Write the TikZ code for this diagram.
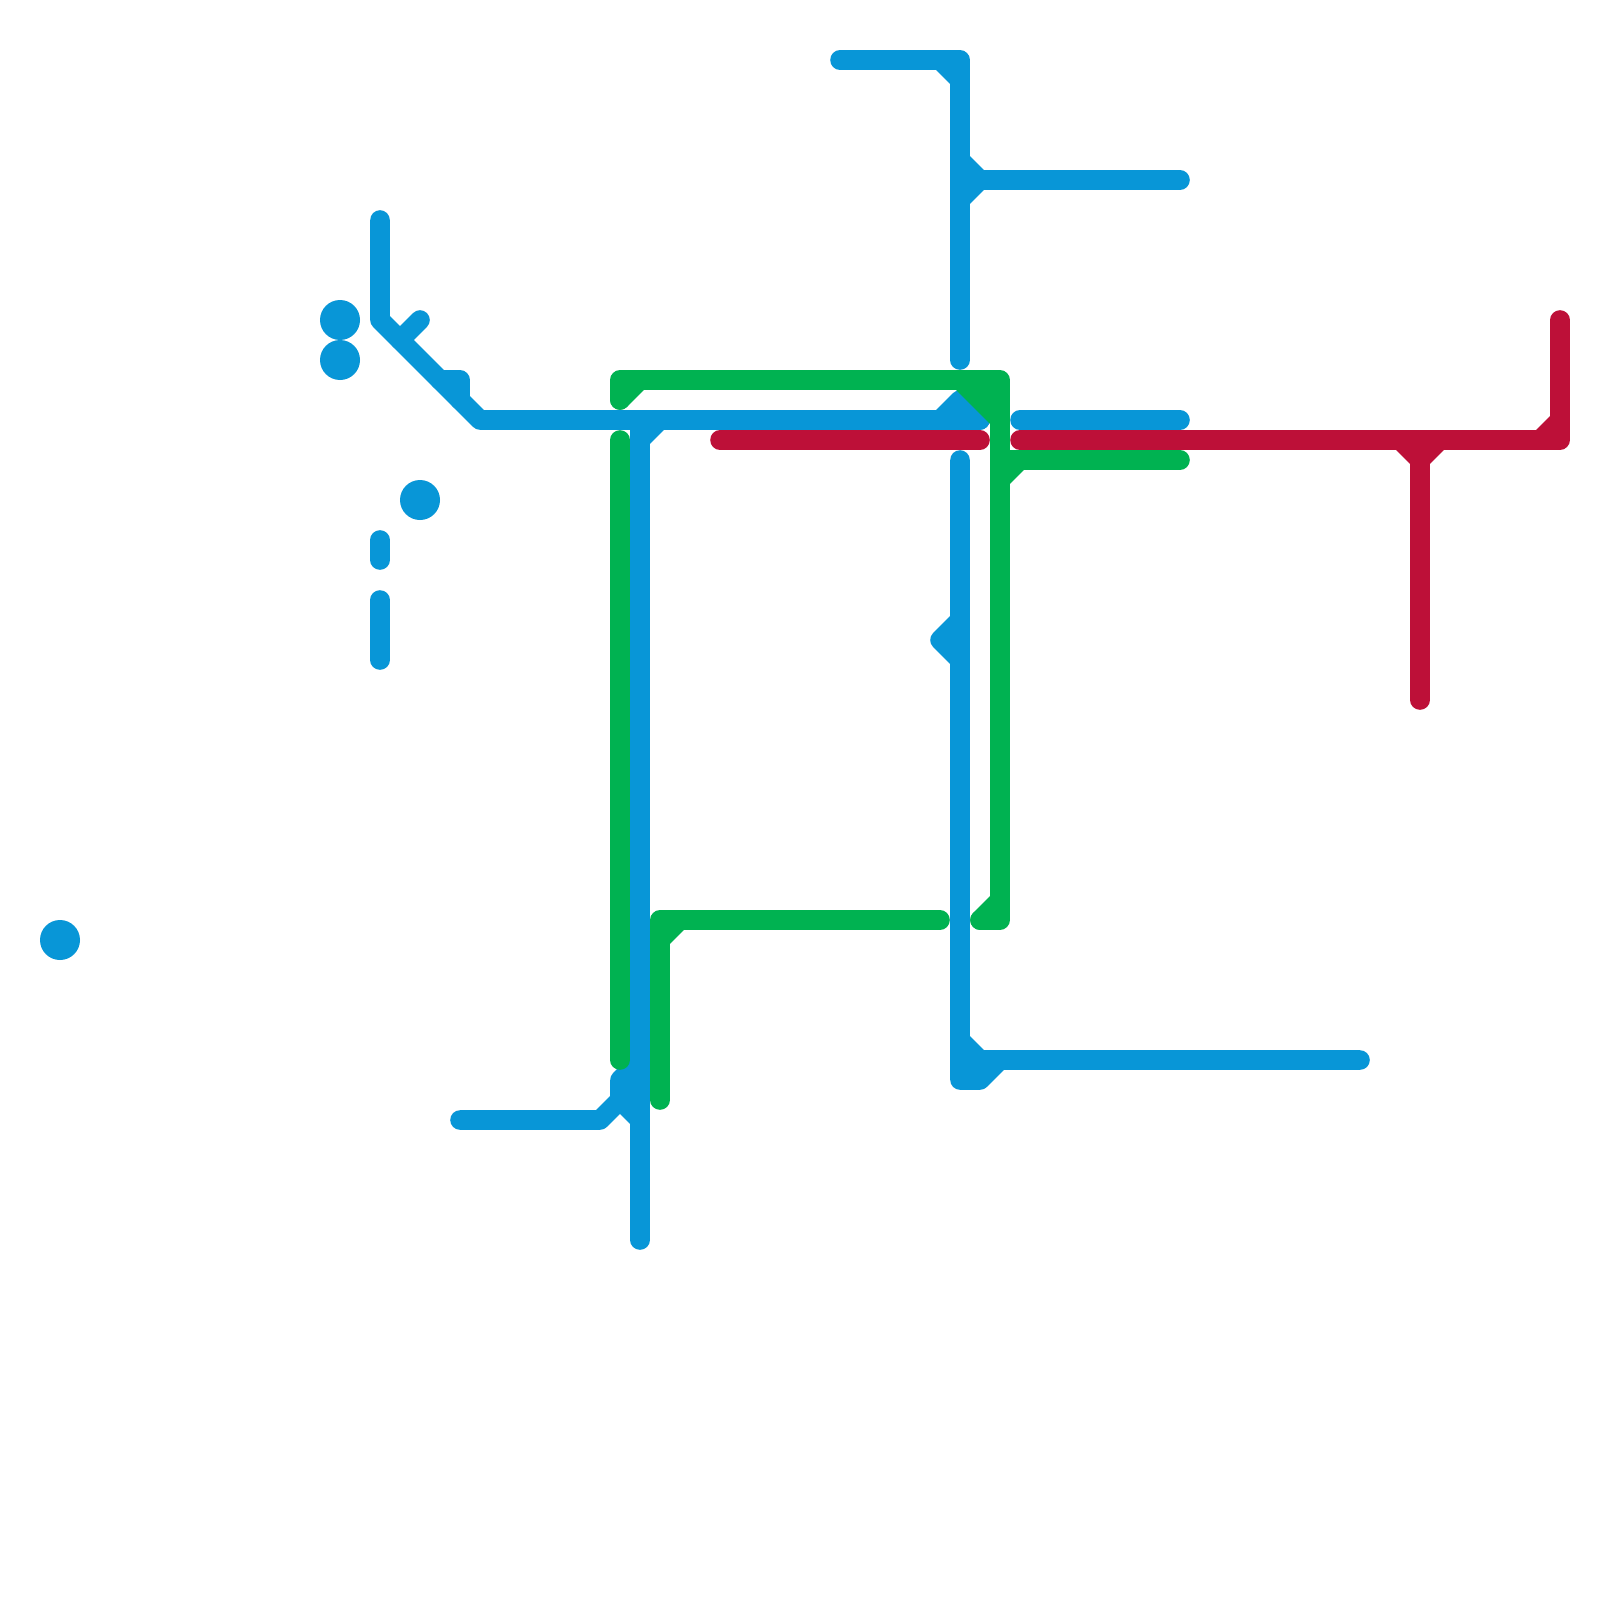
\documentclass[tikz,border=0pt]{standalone}
\definecolor{mblue}{HTML}{0896D7}
\definecolor{mgreen}{HTML}{00B251}
\definecolor{mred}{HTML}{BD1038}
\tikzset{
  x=0.01cm,y=-0.01cm,
  metro/.style={line width=0.196cm,line cap=round,line join=round},
  blueline/.style={metro,draw=mblue},
  greenline/.style={metro,draw=mgreen},
  redline/.style={metro,draw=mred},
  station/.style={fill=mblue}
}
\begin{document}
\begin{tikzpicture}
\useasboundingbox (0,0) rectangle (1600,1600);
\fill[white] (0,0) rectangle (1600,1600);
% stations
\fill[station] (340,320) circle[radius=20];
\fill[station] (340,360) circle[radius=20];
\fill[station] (420,500) circle[radius=20];
\fill[station] (60,940) circle[radius=20];
% blue
\draw[blueline] (380,220)--(380,320)--(480,420)--(980,420);
\draw[blueline] (400,340)--(420,320);
\fill[mblue] (440,380)--(460,380)--(460,400)--cycle;
\draw[blueline] (440,380)--(460,380)--(460,400);
\fill[mblue] (940,420)--(960,400)--(980,420)--cycle;
\draw[blueline] (940,420)--(960,400)--(980,420);
\draw[blueline] (380,540)--(380,560);
\draw[blueline] (380,600)--(380,660);
\draw[blueline] (640,420)--(640,1240);
\fill[mblue] (640,420)--(660,420)--(640,440)--cycle;
\draw[blueline] (660,420)--(640,440);
\fill[mblue] (620,1080)--(640,1060)--(640,1120)--(620,1100)--cycle;
\draw[blueline] (460,1120)--(600,1120)--(620,1100)--(640,1120);
\draw[blueline] (640,1060)--(620,1080)--(620,1100);
\draw[blueline] (840,60)--(960,60)--(960,360);
\fill[mblue] (940,60)--(960,60)--(960,80)--cycle;
\draw[blueline] (940,60)--(960,80);
\draw[blueline] (960,180)--(1180,180);
\fill[mblue] (960,160)--(980,180)--(960,200)--cycle;
\draw[blueline] (960,160)--(980,180)--(960,200);
\draw[blueline] (960,460)--(960,1080)--(980,1080)--(1000,1060);
\fill[mblue] (940,640)--(960,620)--(960,660)--cycle;
\draw[blueline] (960,620)--(940,640)--(960,660);
\fill[mblue] (960,1040)--(980,1060)--(1000,1060)--(980,1080)--(960,1080)--cycle;
\draw[blueline] (960,1040)--(980,1060)--(1360,1060);
\draw[blueline] (1020,420)--(1180,420);
% red
\draw[redline] (720,440)--(980,440);
\draw[redline] (1020,440)--(1560,440)--(1560,320);
\fill[mred] (1540,440)--(1560,440)--(1560,420)--cycle;
\draw[redline] (1540,440)--(1560,420);
\fill[mred] (1400,440)--(1440,440)--(1420,460)--cycle;
\draw[redline] (1400,440)--(1420,460)--(1440,440);
\draw[redline] (1420,460)--(1420,700);
% green
\draw[greenline] (620,400)--(620,380)--(1000,380)--(1000,920)--(980,920);
\fill[mgreen] (620,400)--(620,380)--(640,380)--cycle;
\draw[greenline] (620,400)--(640,380);
\fill[mgreen] (960,380)--(1000,380)--(1000,420)--cycle;
\draw[greenline] (960,380)--(1000,420);
\fill[mgreen] (980,920)--(1000,920)--(1000,900)--cycle;
\draw[greenline] (980,920)--(1000,900);
\draw[greenline] (1000,460)--(1180,460);
\fill[mgreen] (1000,460)--(1020,460)--(1000,480)--cycle;
\draw[greenline] (1020,460)--(1000,480);
\draw[greenline] (620,440)--(620,1060);
\draw[greenline] (940,920)--(660,920)--(660,1100);
\fill[mgreen] (660,920)--(680,920)--(660,940)--cycle;
\draw[greenline] (680,920)--(660,940);
\end{tikzpicture}
\end{document}
